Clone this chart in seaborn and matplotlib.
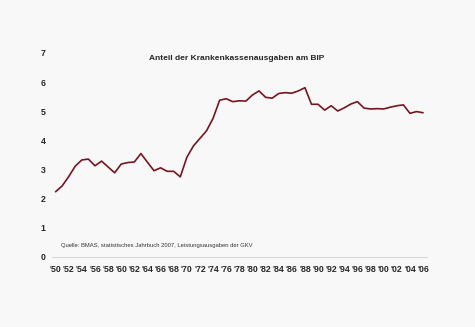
import matplotlib
matplotlib.use("Agg")
import matplotlib.pyplot as plt
import seaborn as sns
import pandas as pd

years = list(range(1950, 2007))
share = [2.24, 2.44, 2.76, 3.12, 3.33, 3.36, 3.13, 3.29, 3.09, 2.89,
         3.19, 3.24, 3.26, 3.55, 3.25, 2.96, 3.06, 2.94, 2.94, 2.75,
         3.42, 3.81, 4.07, 4.33, 4.76, 5.38, 5.43, 5.33, 5.36, 5.35,
         5.56, 5.70, 5.48, 5.45, 5.61, 5.64, 5.62, 5.70, 5.81, 5.24,
         5.24, 5.04, 5.19, 5.01, 5.12, 5.25, 5.33, 5.11, 5.08, 5.09,
         5.08, 5.14, 5.19, 5.22, 4.93, 4.99, 4.95]
tick_years = list(range(1950, 2007, 2))
tick_labels = ["'" + str(y)[2:] for y in tick_years]
title = "Anteil der Krankenkassenausgaben am BIP"
source = "Quelle: BMAS, statistisches Jahrbuch 2007, Leistungsausgaben der GKV"

df = pd.DataFrame({"Jahr": years, "Anteil": share})

sns.set_style("white")
plt.rcParams['font.family'] = ['Liberation Sans', 'DejaVu Sans']
bg = "#f8f8f8"
fig = plt.figure(figsize=(4.75, 3.27), dpi=100, facecolor=bg)
ax = fig.add_axes([52/475, 70/327, 375/475, 204/327], facecolor=bg)

sns.lineplot(data=df, x="Jahr", y="Anteil", ax=ax, color="#761520", linewidth=1.2)

ax.set_xlim(1949.45, 2006.6)
ax.set_ylim(0, 7)
ax.set_xlabel("")
ax.set_ylabel("")
for s in ["top", "right", "left"]:
    ax.spines[s].set_visible(False)
ax.spines["bottom"].set_color("#d0d0d0")
ax.spines["bottom"].set_linewidth(0.6)

ax.set_xticks(tick_years)
ax.set_xticklabels(tick_labels, fontsize=6.3, fontweight="bold")
ax.tick_params(axis="x", direction="in", length=2.5, color="#d0d0d0", width=0.6, pad=6)
ax.set_yticks(range(0, 8))
ax.set_yticklabels([str(i) for i in range(0, 8)], fontsize=6.3, fontweight="bold")
ax.tick_params(axis="y", length=0, pad=4.5)

fig.text(237/475, 1 - 59/327, title, ha="center", va="center", fontsize=6.0, fontweight="bold")
fig.text(61/475, 1 - 246/327, source, ha="left", va="center", fontsize=4.25, color="#333333")

fig.savefig("out.png", dpi=100, facecolor=bg)
